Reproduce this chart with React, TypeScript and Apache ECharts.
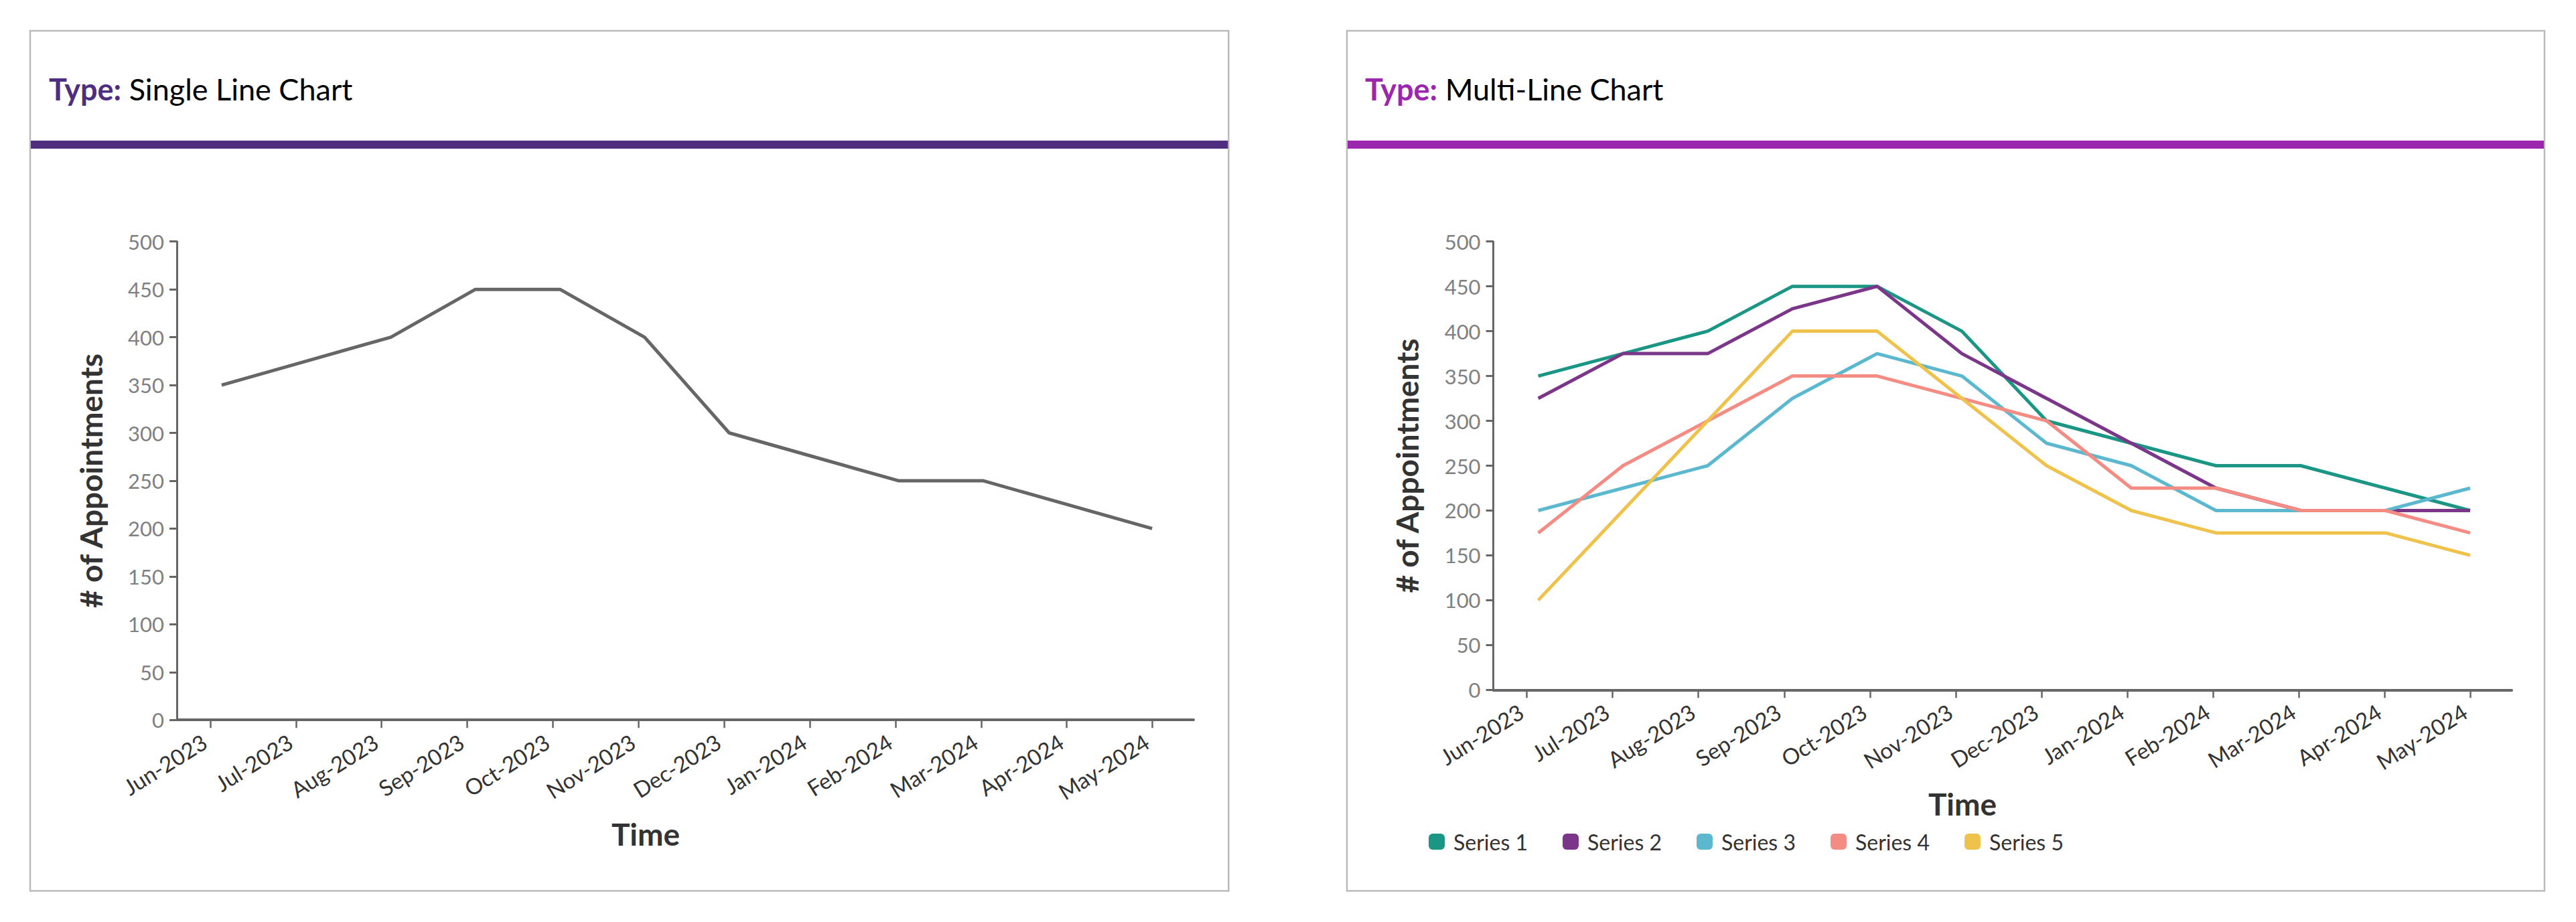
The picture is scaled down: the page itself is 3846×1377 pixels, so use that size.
import React, { useEffect, useRef } from "react";
import * as echarts from "echarts";

const monthLabels = [
  "Jun-2023", "Jul-2023", "Aug-2023", "Sep-2023", "Oct-2023", "Nov-2023",
  "Dec-2023", "Jan-2024", "Feb-2024", "Mar-2024", "Apr-2024", "May-2024",
];
const singleValues = [350, 375, 400, 450, 450, 400, 300, 275, 250, 250, 225, 200];
const series1 = [350, 375, 400, 450, 450, 400, 300, 275, 250, 250, 225, 200];
const series2 = [325, 375, 375, 425, 450, 375, 325, 275, 225, 200, 200, 200];
const series3 = [200, 225, 250, 325, 375, 350, 275, 250, 200, 200, 200, 225];
const series4 = [175, 250, 300, 350, 350, 325, 300, 225, 225, 200, 200, 175];
const series5 = [100, 200, 300, 400, 400, 325, 250, 200, 175, 175, 175, 150];
const seriesNames = ["Series 1", "Series 2", "Series 3", "Series 4", "Series 5"];
const seriesColors = ["#1b9684", "#7b3589", "#5bb8cf", "#f48c84", "#efc24c"];
const multiValues = [series1, series2, series3, series4, series5];

const FONT = "Lato";
const AXIS_COLOR = "#666666";

function tickAxis(gridIndex: number) {
  const idx = monthLabels.map((_, i) => i);
  return {
    gridIndex,
    type: "value",
    min: -0.39,
    max: 11.48,
    splitLine: { show: false },
    axisLine: { show: true, onZero: false, lineStyle: { color: AXIS_COLOR, width: 4 } },
    axisTick: { show: true, customValues: idx, length: 12, lineStyle: { color: AXIS_COLOR, width: 2.5 } },
    axisLabel: {
      show: true,
      customValues: idx,
      formatter: (v: number) => monthLabels[Math.round(v)] ?? "",
      rotate: 32,
      margin: 24,
      padding: [0, 10, 0, 0],
      color: "#333333",
      fontSize: 33,
      fontFamily: FONT,
      hideOverlap: false,
    },
  };
}

function dataAxis(gridIndex: number) {
  return {
    gridIndex,
    type: "value",
    min: -0.53,
    max: 11.49,
    show: false,
    splitLine: { show: false },
    axisLine: { onZero: false },
  };
}

function valueAxis(gridIndex: number) {
  return {
    gridIndex,
    type: "value",
    min: 0,
    max: 500,
    interval: 50,
    splitLine: { show: false },
    axisLine: { show: true, onZero: false, lineStyle: { color: AXIS_COLOR, width: 3 } },
    axisTick: { show: true, length: 11, lineStyle: { color: AXIS_COLOR, width: 3 } },
    axisLabel: { margin: 19, color: "#808080", fontSize: 31, fontFamily: FONT },
    name: "# of Appointments",
    nameLocation: "middle",
    nameGap: 106,
    nameRotate: 90,
    nameTextStyle: { fontSize: 46, fontWeight: "bold", color: "#333333", fontFamily: FONT },
  };
}

function panel(x: number, y: number, w: number, h: number, band: string, typeColor: string, label: string, titleX: number) {
  return [
    {
      type: "rect",
      shape: { x, y, width: w, height: h },
      style: { fill: "#ffffff", stroke: "#bbbbbb", lineWidth: 2.5 },
      z: -10,
      silent: true,
    },
    {
      type: "rect",
      shape: { x: x + 1, y: 210, width: w - 2, height: 12 },
      style: { fill: band },
      z: -5,
      silent: true,
    },
    {
      type: "text",
      x: titleX,
      y: 133,
      style: {
        text: "{a|Type:} {b|" + label + "}",
        fontFamily: FONT,
        fontSize: 45,
        fill: "#000000",
        verticalAlign: "middle",
        align: "left",
        rich: {
          a: { fontFamily: FONT, fontSize: 45, fontWeight: "bold", fill: typeColor, color: typeColor },
          b: { fontFamily: FONT, fontSize: 45, fill: "#000000", color: "#000000" },
        },
      },
      silent: true,
    },
  ];
}

function axisTitle(x: number, y: number) {
  return {
    type: "text",
    x,
    y,
    style: {
      text: "Time",
      fontFamily: FONT,
      fontSize: 46,
      fontWeight: "bold",
      fill: "#333333",
      align: "center",
      verticalAlign: "middle",
    },
    silent: true,
  };
}

export default function App() {
  const ref = useRef<HTMLDivElement>(null);

  useEffect(() => {
    if (!ref.current) return;
    const chart = echarts.init(ref.current, undefined, { renderer: "svg" });

    const option: any = {
      animation: false,
      backgroundColor: "#ffffff",
      textStyle: { fontFamily: FONT },
      grid: [
        { left: 264, top: 360.7, width: 1518, height: 714.5 },
        { left: 2229.6, top: 360.7, width: 1520.4, height: 669.6 },
      ],
      xAxis: [tickAxis(0), dataAxis(0), tickAxis(1), dataAxis(1)],
      yAxis: [valueAxis(0), valueAxis(1)],
      legend: {
        data: seriesNames,
        left: 2133,
        top: 1241,
        padding: 0,
        itemWidth: 24,
        itemHeight: 24,
        itemGap: 52,
        icon: "roundRect",
        textStyle: { fontSize: 32, color: "#333333", fontFamily: FONT, width: 120, padding: [0, 0, 0, 8] },
      },
      graphic: [
        ...panel(45, 46, 1789.3, 1284.4, "#4f2d7f", "#4f2d7f", "Single Line Chart", 73),
        ...panel(2011, 46, 1788, 1284.4, "#9b27af", "#9b27af", "Multi-Line Chart", 2038),
        axisTitle(964, 1245),
        axisTitle(2930, 1200),
      ],
      series: [
        {
          name: "Appointments",
          type: "line",
          xAxisIndex: 1,
          yAxisIndex: 0,
          data: singleValues.map((v, i) => [i, v]),
          showSymbol: false,
          symbol: "none",
          lineStyle: { color: "#666666", width: 5 },
          itemStyle: { color: "#666666" },
        },
        ...multiValues.map((vals, k) => ({
          name: seriesNames[k],
          type: "line",
          xAxisIndex: 3,
          yAxisIndex: 1,
          data: vals.map((v, i) => [i, v]),
          showSymbol: false,
          symbol: "none",
          lineStyle: { color: seriesColors[k], width: 5 },
          itemStyle: { color: seriesColors[k] },
        })),
      ],
    };

    chart.setOption(option);
    return () => chart.dispose();
  }, []);

  return (
    <div
      ref={ref}
      style={{ position: "fixed", left: 0, top: 0, width: "3846px", height: "1377px", background: "#ffffff" }}
    />
  );
}
